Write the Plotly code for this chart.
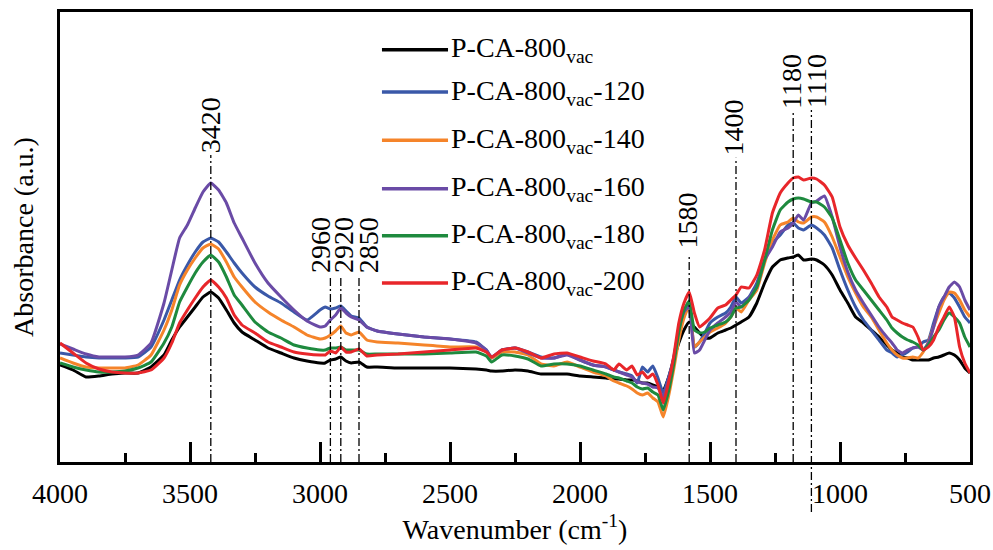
import plotly.graph_objects as go

# ---------------- data ----------------
wavenumber = [
    4000, 3950, 3900, 3850, 3800, 3750, 3700, 3650, 3600, 3570,
    3540, 3510, 3480, 3450, 3420, 3390, 3360, 3330, 3300, 3250,
    3200, 3150, 3100, 3050, 3000, 2980, 2960, 2940, 2920, 2900,
    2880, 2850, 2820, 2780, 2700, 2600, 2500, 2400, 2360, 2340,
    2300, 2250, 2200, 2150, 2100, 2050, 2000, 1950, 1900, 1870,
    1850, 1820, 1800, 1780, 1760, 1740, 1720, 1700, 1680, 1660,
    1640, 1620, 1600, 1580, 1560, 1540, 1520, 1500, 1470, 1440,
    1420, 1400, 1380, 1350, 1320, 1290, 1260, 1230, 1200, 1180,
    1160, 1140, 1110, 1090, 1060, 1030, 1000, 970, 940, 910,
    880, 850, 820, 800, 780, 760, 740, 720, 700, 680,
    660, 640, 620, 600, 580, 560, 540, 520, 500,
]

abs_vac = [
    0.97, 0.92, 0.85, 0.86, 0.88, 0.89, 0.89, 0.95, 1.07, 1.22,
    1.35, 1.45, 1.55, 1.65, 1.70, 1.64, 1.52, 1.39, 1.30, 1.22,
    1.14, 1.09, 1.04, 1.01, 0.99, 0.99, 1.02, 1.03, 1.05, 1.01,
    0.99, 1.00, 0.95, 0.95, 0.94, 0.94, 0.94, 0.93, 0.92, 0.91,
    0.91, 0.92, 0.91, 0.88, 0.88, 0.88, 0.86, 0.85, 0.84, 0.83,
    0.83, 0.82, 0.82, 0.81, 0.79, 0.79, 0.77, 0.75, 0.72, 0.84,
    1.02, 1.19, 1.32, 1.40, 1.35, 1.29, 1.24, 1.24, 1.29, 1.32,
    1.34, 1.37, 1.40, 1.45, 1.59, 1.79, 1.95, 2.02, 2.04, 2.05,
    2.07, 2.02, 2.03, 2.02, 1.97, 1.87, 1.72, 1.59, 1.45, 1.39,
    1.32, 1.25, 1.17, 1.12, 1.09, 1.05, 1.04, 1.02, 1.02, 1.02,
    1.02, 1.04, 1.05, 1.07, 1.09, 1.07, 1.02, 0.94, 0.89,
]

abs_120 = [
    1.09, 1.07, 1.05, 1.04, 1.04, 1.04, 1.05, 1.15, 1.42, 1.62,
    1.82, 1.97, 2.10, 2.20, 2.24, 2.20, 2.10, 1.99, 1.89, 1.75,
    1.66, 1.59, 1.50, 1.42, 1.52, 1.55, 1.53, 1.54, 1.56, 1.51,
    1.46, 1.44, 1.35, 1.31, 1.28, 1.25, 1.23, 1.20, 1.12, 1.04,
    1.12, 1.14, 1.10, 1.05, 1.04, 1.08, 1.02, 0.97, 0.95, 0.92,
    0.90, 0.88, 0.86, 0.79, 0.95, 0.90, 0.96, 0.84, 0.69, 0.84,
    1.04, 1.32, 1.48, 1.59, 1.15, 1.20, 1.29, 1.39, 1.45, 1.49,
    1.55, 1.65, 1.59, 1.65, 1.79, 2.02, 2.19, 2.27, 2.37, 2.39,
    2.34, 2.32, 2.37, 2.34, 2.27, 2.14, 1.92, 1.72, 1.55, 1.42,
    1.32, 1.22, 1.12, 1.09, 1.05, 1.07, 1.10, 1.14, 1.15, 1.20,
    1.22, 1.39, 1.55, 1.65, 1.69, 1.64, 1.55, 1.45, 1.39,
]

abs_140 = [
    1.04, 0.99, 0.95, 0.94, 0.94, 0.94, 0.97, 1.07, 1.32, 1.52,
    1.77, 1.92, 2.04, 2.14, 2.18, 2.13, 2.00, 1.85, 1.75, 1.60,
    1.50, 1.42, 1.35, 1.27, 1.23, 1.24, 1.27, 1.31, 1.36, 1.29,
    1.27, 1.30, 1.22, 1.20, 1.19, 1.17, 1.15, 1.15, 1.10, 1.04,
    1.10, 1.10, 1.07, 0.98, 0.96, 1.00, 0.95, 0.90, 0.86, 0.81,
    0.79, 0.76, 0.73, 0.69, 0.67, 0.69, 0.64, 0.60, 0.45, 0.65,
    0.92, 1.22, 1.44, 1.56, 1.15, 1.20, 1.25, 1.30, 1.34, 1.39,
    1.45, 1.54, 1.50, 1.62, 1.72, 1.99, 2.22, 2.37, 2.40, 2.44,
    2.40, 2.39, 2.45, 2.45, 2.40, 2.25, 2.05, 1.85, 1.69, 1.55,
    1.45, 1.32, 1.19, 1.12, 1.07, 1.04, 1.04, 1.05, 1.04, 1.10,
    1.20, 1.35, 1.49, 1.62, 1.70, 1.69, 1.62, 1.52, 1.45,
]

abs_160 = [
    1.18, 1.13, 1.08, 1.05, 1.05, 1.05, 1.07, 1.19, 1.59, 1.92,
    2.24, 2.37, 2.54, 2.70, 2.79, 2.72, 2.59, 2.39, 2.24, 1.99,
    1.79, 1.65, 1.52, 1.41, 1.35, 1.36, 1.42, 1.47, 1.54, 1.49,
    1.45, 1.42, 1.35, 1.31, 1.28, 1.25, 1.23, 1.19, 1.12, 1.05,
    1.12, 1.14, 1.09, 1.04, 1.04, 1.07, 1.02, 0.97, 0.95, 0.92,
    0.90, 0.87, 0.85, 0.80, 0.79, 0.78, 0.75, 0.74, 0.65, 0.82,
    1.02, 1.32, 1.50, 1.56, 1.09, 1.12, 1.22, 1.32, 1.39, 1.45,
    1.50, 1.60, 1.55, 1.64, 1.75, 2.02, 2.15, 2.30, 2.34, 2.39,
    2.47, 2.42, 2.59, 2.61, 2.66, 2.45, 2.15, 1.90, 1.72, 1.59,
    1.47, 1.35, 1.25, 1.19, 1.12, 1.09, 1.12, 1.14, 1.15, 1.12,
    1.19, 1.35, 1.55, 1.65, 1.75, 1.80, 1.75, 1.62, 1.52,
]

abs_180 = [
    0.99, 0.95, 0.92, 0.90, 0.90, 0.91, 0.94, 1.00, 1.19, 1.35,
    1.60, 1.75, 1.89, 2.00, 2.07, 2.00, 1.85, 1.67, 1.57, 1.40,
    1.30, 1.24, 1.17, 1.14, 1.12, 1.12, 1.14, 1.14, 1.15, 1.12,
    1.12, 1.12, 1.08, 1.08, 1.08, 1.08, 1.09, 1.10, 1.06, 1.00,
    1.07, 1.06, 1.03, 0.96, 0.98, 0.98, 0.96, 0.92, 0.88, 0.85,
    0.84, 0.81, 0.79, 0.75, 0.73, 0.74, 0.70, 0.67, 0.52, 0.70,
    0.97, 1.30, 1.52, 1.61, 1.32, 1.29, 1.30, 1.34, 1.37, 1.40,
    1.45, 1.54, 1.55, 1.62, 1.75, 2.02, 2.32, 2.52, 2.60, 2.63,
    2.64, 2.63, 2.60, 2.60, 2.55, 2.44, 2.22, 1.99, 1.82, 1.72,
    1.62, 1.52, 1.42, 1.34, 1.29, 1.25, 1.22, 1.20, 1.17, 1.12,
    1.17, 1.25, 1.32, 1.42, 1.49, 1.45, 1.39, 1.25, 1.15,
]

abs_200 = [
    1.19, 1.09, 0.99, 0.93, 0.90, 0.89, 0.89, 0.92, 1.04, 1.19,
    1.39, 1.52, 1.64, 1.75, 1.82, 1.75, 1.64, 1.47, 1.37, 1.29,
    1.20, 1.15, 1.10, 1.08, 1.07, 1.07, 1.11, 1.09, 1.15, 1.10,
    1.10, 1.13, 1.06, 1.07, 1.08, 1.10, 1.12, 1.14, 1.10, 1.05,
    1.12, 1.14, 1.10, 1.04, 1.08, 1.09, 1.05, 1.01, 0.98, 0.92,
    0.98, 0.92, 0.96, 0.87, 0.90, 0.84, 0.88, 0.77, 0.59, 0.79,
    1.05, 1.39, 1.59, 1.70, 1.49, 1.35, 1.39, 1.44, 1.54, 1.57,
    1.62, 1.67, 1.75, 1.74, 1.87, 2.12, 2.49, 2.69, 2.79, 2.84,
    2.85, 2.82, 2.84, 2.83, 2.77, 2.65, 2.35, 2.17, 2.04, 1.92,
    1.79, 1.65, 1.55, 1.45, 1.42, 1.39, 1.37, 1.35, 1.25, 1.12,
    1.15, 1.22, 1.35, 1.45, 1.55, 1.45, 1.15, 0.99, 0.89,
]

series_names = [
    "P-CA-800<sub>vac</sub>",
    "P-CA-800<sub>vac</sub>-120",
    "P-CA-800<sub>vac</sub>-140",
    "P-CA-800<sub>vac</sub>-160",
    "P-CA-800<sub>vac</sub>-180",
    "P-CA-800<sub>vac</sub>-200",
]
series_values = [abs_vac, abs_120, abs_140, abs_160, abs_180, abs_200]
series_colors = ["#000000", "#3A58A8", "#F5842A", "#6A4BA6", "#1E8A3E", "#E8262A"]

x_tick_values = [4000, 3500, 3000, 2500, 2000, 1500, 1000, 500]
x_tick_labels = ["4000", "3500", "3000", "2500", "2000", "1500", "1000", "500"]

# peak markers: position, label text, label x position, label centre (paper y), line top (paper y), line bottom (paper y)
peak_positions = [3420, 2960, 2920, 2850, 1580, 1400, 1180, 1110]
peak_labels = ["3420", "2960", "2920", "2850", "1580", "1400", "1180", "1110"]
peak_label_x = [3420, 3000, 2912, 2815, 1588, 1408, 1186, 1090]
peak_label_y = [0.748, 0.482, 0.482, 0.482, 0.537, 0.743, 0.846, 0.846]
peak_line_top = [0.682, 0.413, 0.413, 0.413, 0.460, 0.676, 0.782, 0.782]
peak_line_bottom = [0.0, 0.0, 0.0, 0.0, 0.0, 0.0, 0.0, -0.111]

FONT = "Liberation Serif"

fig = go.Figure()
for name, vals, color in zip(series_names, series_values, series_colors):
    fig.add_trace(go.Scatter(
        x=wavenumber, y=vals, mode="lines", name=name,
        line=dict(color=color, width=3, shape="spline", smoothing=0.4),
        showlegend=False, hoverinfo="x+y+name",
    ))

shapes = []
annotations = []
for pos, lab, lx, ly, top, bot in zip(peak_positions, peak_labels, peak_label_x,
                                      peak_label_y, peak_line_top, peak_line_bottom):
    shapes.append(dict(type="line", xref="x", yref="paper", x0=pos, x1=pos, y0=bot, y1=top,
                       line=dict(color="black", width=1.3, dash="8px,3px,2px,3px")))
    annotations.append(dict(x=lx, y=ly, xref="x", yref="paper", text=lab, textangle=-90,
                            showarrow=False, xanchor="center", yanchor="middle",
                            font=dict(family=FONT, size=28, color="black")))

# manual legend (top centre)
legend_rows_y = [0.916, 0.822, 0.715, 0.607, 0.503, 0.398]
for name, color, ry in zip(series_names, series_colors, legend_rows_y):
    shapes.append(dict(type="line", xref="paper", yref="paper", x0=0.3538, x1=0.4264,
                       y0=ry, y1=ry, line=dict(color=color, width=3.5)))
    annotations.append(dict(x=0.4275, y=ry, xref="paper", yref="paper", text=name,
                            showarrow=False, xanchor="left", yanchor="middle",
                            font=dict(family=FONT, size=28, color="black")))

fig.update_layout(
    width=993, height=550,
    margin=dict(l=60, r=23, t=12, b=88),
    paper_bgcolor="white", plot_bgcolor="white",
    font=dict(family=FONT, size=28, color="black"),
    shapes=shapes, annotations=annotations,
    showlegend=False,
    xaxis=dict(
        range=[4000, 500], tickmode="array", tickvals=x_tick_values, ticktext=x_tick_labels,
        ticks="inside", ticklen=20, tickwidth=3, tickcolor="black",
        minor=dict(dtick=250, ticks="inside", ticklen=9, tickwidth=3, tickcolor="black"),
        showline=True, linewidth=3, linecolor="black", mirror=True,
        showgrid=False, zeroline=False,
        tickfont=dict(family=FONT, size=28),
        ticklabelstandoff=4,
        title=dict(text="Wavenumber (cm<sup>-1</sup>)", font=dict(family=FONT, size=28), standoff=12),
        automargin=False,
    ),
    yaxis=dict(
        range=[0, 4.5], showticklabels=False, ticks="",
        showline=True, linewidth=3, linecolor="black", mirror=True,
        showgrid=False, zeroline=False,
        title=dict(text="Absorbance (a.u.)", font=dict(family=FONT, size=28), standoff=16),
        automargin=False,
    ),
)

fig.write_html(
    "out.html",
    config={"displayModeBar": False},
    post_script="document.body.style.margin='0';document.body.style.padding='0';",
)
